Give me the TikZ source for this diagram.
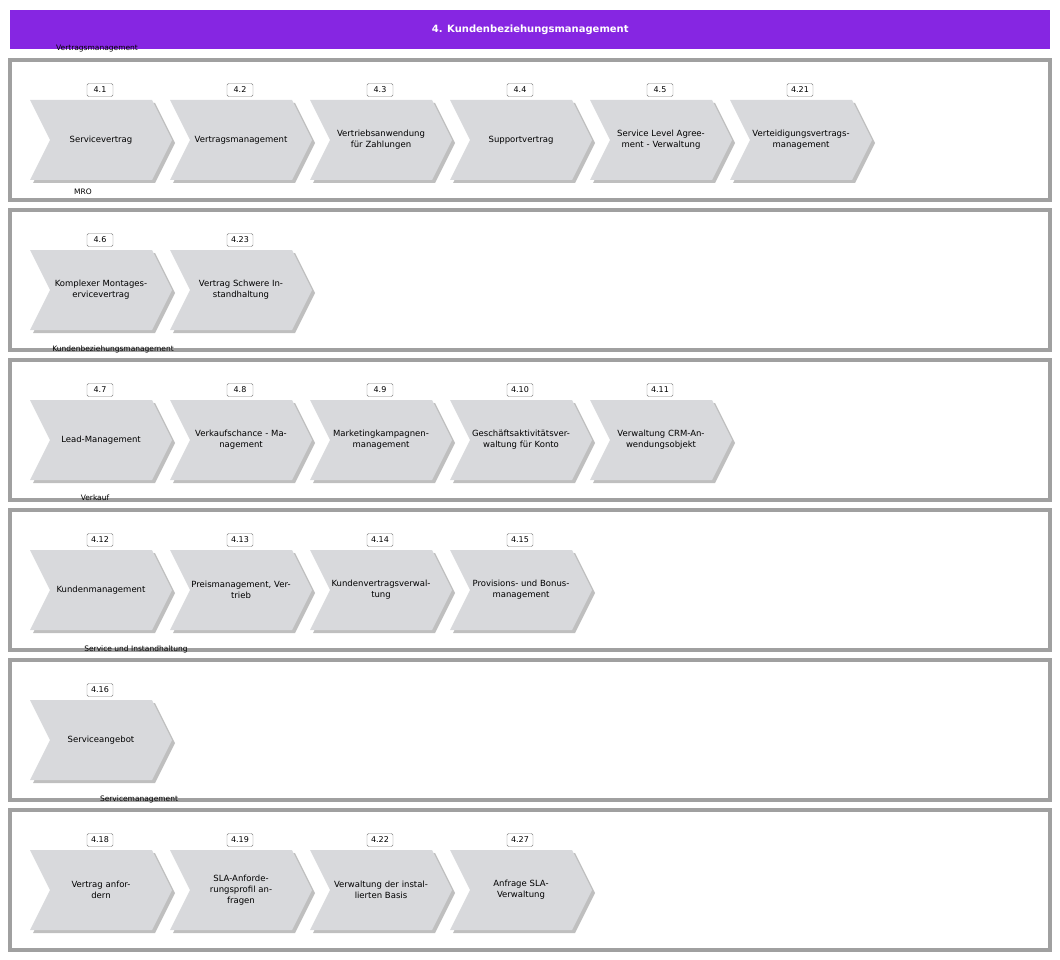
\documentclass[tikz,border=0pt]{standalone}
\usepackage{fontspec}
\setmainfont{DejaVu Sans}
\usetikzlibrary{positioning}
\definecolor{titleviolet}{RGB}{134,38,226}
\definecolor{chevgray}{RGB}{216,217,220}
\definecolor{framegray}{RGB}{160,160,160}
\tikzset{
  panel/.style={draw=framegray,line width=1.6pt,double=white,double distance=0pt},
  numbox/.style={draw=gray,rounded corners=1.5pt,fill=white,minimum width=26pt,minimum height=13pt,inner sep=1pt,font=\fontsize{8}{9}\selectfont},
  chevtext/.style={align=center,text width=128pt,font=\fontsize{8.5}{11}\selectfont},
  grouplabel/.style={font=\fontsize{7.5}{8}\selectfont,inner sep=1pt}
}
% chevron: #1 x, #2 y (top), #3 name, #4 number, #5 text
\newcommand{\chev}[5]{
  \fill[black!25] (#1+3,#2+3) -- (#1+125,#2+3) -- (#1+145,#2+43) -- (#1+125,#2+83) -- (#1+3,#2+83) -- (#1+23,#2+43) -- cycle;
  \fill[chevgray] (#1,#2) -- (#1+122,#2) -- (#1+142,#2+40) -- (#1+122,#2+80) -- (#1,#2+80) -- (#1+20,#2+40) -- cycle;
  \node[chevtext] (#3) at (#1+71,#2+40) {#5};
  \node[numbox] (#3n) at (#1+70,#2-10) {#4};
}
\begin{document}
\begin{tikzpicture}[x=1pt,y=-1pt]
  \useasboundingbox (0,0) rectangle (1060,960);
  \node[fill=titleviolet,minimum width=1040pt,minimum height=39pt,anchor=north west,inner sep=0pt,
        text=white,font=\bfseries\fontsize{10}{12}\selectfont] (title) at (10,10) {4. Kundenbeziehungsmanagement};
  \foreach \k in {0,...,5}
    \draw[panel] (10,60+150*\k) rectangle (1050,200+150*\k);

  \node[grouplabel] (g1) at (97,49) {Vertragsmanagement};
  \node[grouplabel] (g2) at (83,192) {MRO};
  \node[grouplabel] (g3) at (113,349) {Kundenbeziehungsmanagement};
  \node[grouplabel] (g4) at (95,498) {Verkauf};
  \node[grouplabel] (g5) at (136,649) {Service und Instandhaltung};
  \node[grouplabel] (g6) at (139,799) {Servicemanagement};

  % Vertragsmanagement
  \chev{30}{100}{p41}{4.1}{Servicevertrag}
  \chev{170}{100}{p42}{4.2}{Vertragsmanagement}
  \chev{310}{100}{p43}{4.3}{Vertriebsanwendung\\für Zahlungen}
  \chev{450}{100}{p44}{4.4}{Supportvertrag}
  \chev{590}{100}{p45}{4.5}{Service Level Agree-\\ment - Verwaltung}
  \chev{730}{100}{p421}{4.21}{Verteidigungsvertrags-\\management}
  % MRO
  \chev{30}{250}{p46}{4.6}{Komplexer Montages-\\ervicevertrag}
  \chev{170}{250}{p423}{4.23}{Vertrag Schwere In-\\standhaltung}
  % Kundenbeziehungsmanagement
  \chev{30}{400}{p47}{4.7}{Lead-Management}
  \chev{170}{400}{p48}{4.8}{Verkaufschance - Ma-\\nagement}
  \chev{310}{400}{p49}{4.9}{Marketingkampagnen-\\management}
  \chev{450}{400}{p410}{4.10}{Geschäftsaktivitätsver-\\waltung für Konto}
  \chev{590}{400}{p411}{4.11}{Verwaltung CRM-An-\\wendungsobjekt}
  % Verkauf
  \chev{30}{550}{p412}{4.12}{Kundenmanagement}
  \chev{170}{550}{p413}{4.13}{Preismanagement, Ver-\\trieb}
  \chev{310}{550}{p414}{4.14}{Kundenvertragsverwal-\\tung}
  \chev{450}{550}{p415}{4.15}{Provisions- und Bonus-\\management}
  % Service und Instandhaltung
  \chev{30}{700}{p416}{4.16}{Serviceangebot}
  % Servicemanagement
  \chev{30}{850}{p418}{4.18}{Vertrag anfor-\\dern}
  \chev{170}{850}{p419}{4.19}{SLA-Anforde-\\rungsprofil an-\\fragen}
  \chev{310}{850}{p422}{4.22}{Verwaltung der instal-\\lierten Basis}
  \chev{450}{850}{p427}{4.27}{Anfrage SLA-\\Verwaltung}
\end{tikzpicture}
\end{document}
